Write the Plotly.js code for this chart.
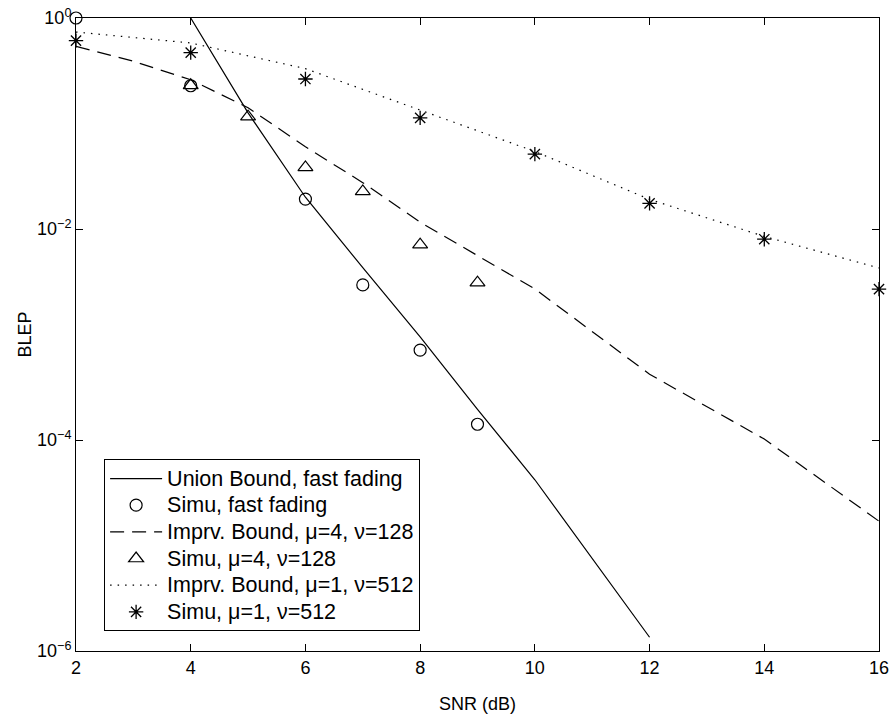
<!DOCTYPE html>
<html>
<head>
<meta charset="utf-8">
<script src="https://cdn.plot.ly/plotly-3.0.1.min.js"></script>
<style>html,body{margin:0;padding:0;background:#fff;}#chart{width:894px;height:721px;}</style>
</head>
<body>
<div id="chart"></div>
<script>
// SNR (dB) and BLEP values
const snrUnion = [4, 5, 6, 7, 8, 9, 10, 11, 12];
const blepUnion = [1.0, 0.126, 0.020, 4.3e-3, 9.5e-4, 1.95e-4, 4.2e-5, 7.6e-6, 1.35e-6];

const snrSimuFast = [2, 4, 6, 7, 8, 9];
const blepSimuFast = [1.0, 0.228, 0.0192, 2.95e-3, 7.1e-4, 1.41e-4];

const snrImp4 = [2, 3, 4, 5, 6, 7, 8, 9, 10, 12, 14, 16];
const blepImp4 = [0.538, 0.389, 0.26, 0.141, 0.0603, 0.0275, 0.0116, 5.6e-3, 2.7e-3, 4.2e-4, 1.02e-4, 1.7e-5];

const snrSimu4 = [4, 5, 6, 7, 8, 9];
const blepSimu4 = [0.23, 0.116, 0.0383, 0.0227, 7.1e-3, 3.1e-3];

const snrImp1 = [2, 4, 6, 8, 10, 12, 14, 16];
const blepImp1 = [0.736, 0.58, 0.331, 0.135, 0.0543, 0.0191, 8.5e-3, 4.27e-3];

const snrSimu1 = [2, 4, 6, 8, 10, 12, 14, 16];
const blepSimu1 = [0.61, 0.47, 0.264, 0.113, 0.0513, 0.0175, 8.0e-3, 2.69e-3];

const seriesNames = [
  "Union Bound, fast fading",
  "Simu, fast fading",
  "Imprv. Bound, \u03bc=4, \u03bd=128",
  "Simu, \u03bc=4, \u03bd=128",
  "Imprv. Bound, \u03bc=1, \u03bd=512",
  "Simu, \u03bc=1, \u03bd=512"
];

const xTicks = [2, 4, 6, 8, 10, 12, 14, 16];
const yTickVals = [1, 1e-2, 1e-4, 1e-6];
const yTickText = ["10<sup>0</sup>", "10<sup>\u22122</sup>", "10<sup>\u22124</sup>", "10<sup>\u22126</sup>"];

const FONT = "Liberation Sans, Arial, Helvetica, sans-serif";
const legendName = (s) => '<span style="font-size:21.5px">' + s + '</span>';

const traces = [
  {x: snrUnion, y: blepUnion, name: legendName(seriesNames[0]), mode: "lines",
   line: {color: "#000", width: 1.2}},
  {x: snrSimuFast, y: blepSimuFast, name: legendName(seriesNames[1]), mode: "markers", cliponaxis: false,
   marker: {symbol: "circle-open", size: 12, color: "#000", line: {width: 1.2}}},
  {x: snrImp4, y: blepImp4, name: legendName(seriesNames[2]), mode: "lines",
   line: {color: "#000", width: 1.2, dash: "14px,8px"}},
  {x: snrSimu4, y: blepSimu4, name: legendName(seriesNames[3]), mode: "markers", cliponaxis: false,
   marker: {symbol: "triangle-up-open", size: 13, color: "#000", line: {width: 1.2}}},
  {x: snrImp1, y: blepImp1, name: legendName(seriesNames[4]), mode: "lines",
   line: {color: "#000", width: 1.2, dash: "1.5px,6px"}},
  {x: snrSimu1, y: blepSimu1, name: legendName(seriesNames[5]), mode: "markers", cliponaxis: false,
   marker: {symbol: "asterisk-open", size: 12, color: "#000", line: {width: 1.3, color: "#000"}}}
];

const layout = {
  width: 894, height: 721,
  margin: {l: 76, r: 15, t: 18, b: 70},
  paper_bgcolor: "#fff", plot_bgcolor: "#fff",
  font: {family: FONT, size: 18, color: "#000"},
  showlegend: true,
  legend: {
    x: 0.035, y: 0.303, xanchor: "left", yanchor: "top",
    bgcolor: "#fff", bordercolor: "#000", borderwidth: 1,
    font: {family: FONT, size: 18.2, color: "#000"},
    itemwidth: 52,
    tracegroupgap: 0
  },
  xaxis: {
    range: [2, 16], tickvals: xTicks, ticktext: xTicks.map(String),
    ticks: "inside", ticklen: 7, tickcolor: "#000", tickwidth: 1,
    showline: true, linecolor: "#000", linewidth: 1, mirror: "ticks",
    showgrid: false, zeroline: false,
    tickfont: {family: FONT, size: 18},
    title: {text: "SNR (dB)", font: {family: FONT, size: 18}, standoff: 20}
  },
  yaxis: {
    type: "log", range: [-6, 0], tickvals: yTickVals, ticktext: yTickText,
    ticks: "inside", ticklen: 7, tickcolor: "#000", tickwidth: 1,
    showline: true, linecolor: "#000", linewidth: 1, mirror: "ticks",
    showgrid: false, zeroline: false,
    tickfont: {family: FONT, size: 18},
    title: {text: "BLEP", font: {family: FONT, size: 18}, standoff: 0}
  }
};

Plotly.newPlot("chart", traces, layout, {displayModeBar: false, staticPlot: true});
</script>
</body>
</html>
